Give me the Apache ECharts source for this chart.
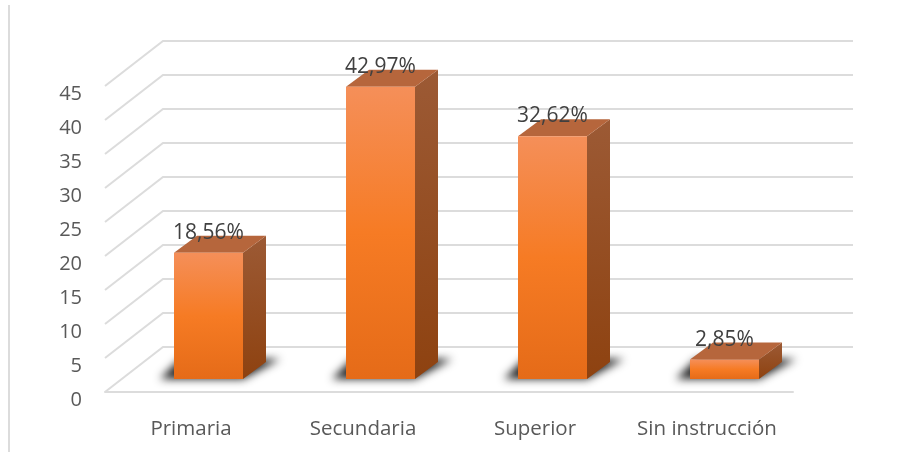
<!DOCTYPE html>
<html>
<head>
<meta charset="utf-8">
<style>
  html, body { margin: 0; padding: 0; background: #fff; }
  #chart { width: 904px; height: 452px; }
</style>
<script src="https://cdn.jsdelivr.net/npm/echarts@6/dist/echarts.min.js"></script>
</head>
<body>
<div id="chart"></div>
<script>
const categories = ['Primaria', 'Secundaria', 'Superior', 'Sin instrucción']
// bar heights as drawn; the third bar stands taller than its printed label
const barValues = [18.56, 42.97, 35.7, 2.85]
const valueLabels = ['18,56%', '42,97%', '32,62%', '2,85%']
const yTicks = [0, 5, 10, 15, 20, 25, 30, 35, 40, 45]

// fake 3d: how far the back wall sits from the front plane, and the bar box
const wallDx = 58
const wallDy = 45
const barShiftX = 17.5
const barShiftY = 13
const barHalf = 34.5
const barDx = 23
const barDy = 17

const gridColor = '#dcdcdc'
const font = '"Open Sans", "Noto Sans", sans-serif'
// the floor shadow shape is drawn off canvas so that only its blur lands on the chart
const blurShift = 2000

const chart = echarts.init(document.getElementById('chart'))

function vGrad (stops) {
  return new echarts.graphic.LinearGradient(0, 0, 0, 1, stops)
}

function renderWall (params, api) {
  const cs = params.coordSys
  const y = api.coord([0, api.value(0)])[1]
  return {
    type: 'polyline',
    shape: { points: [[cs.x, y], [cs.x + wallDx, y - wallDy], [cs.x + cs.width + wallDx + 2, y - wallDy]] },
    style: { fill: null, stroke: gridColor, lineWidth: 2 },
    silent: true
  }
}

function renderBar (params, api) {
  const p = api.coord([api.value(0), api.value(1)])
  const zero = api.coord([api.value(0), 0])
  const x0 = p[0] + barShiftX - barHalf
  const x1 = p[0] + barShiftX + barHalf
  const top = p[1] - barShiftY
  const base = zero[1] - barShiftY
  return {
    type: 'group',
    children: [
      {
        type: 'polygon',
        x: -blurShift,
        shape: { points: [[x0 - 14, base], [x1, base], [x1 + 37, base - 20], [x0 + 6, base - 20]] },
        style: { fill: '#000', shadowBlur: 8, shadowColor: 'rgba(35,35,35,1)', shadowOffsetX: blurShift }
      },
      {
        type: 'polygon',
        shape: { points: [[x1, top], [x1 + barDx, top - barDy], [x1 + barDx, base - barDy], [x1, base]] },
        style: { fill: vGrad([{ offset: 0, color: '#9c5a35' }, { offset: 1, color: '#8e4210' }]) }
      },
      {
        type: 'polygon',
        shape: { points: [[x0, top], [x0 + barDx, top - barDy], [x1 + barDx, top - barDy], [x1, top]] },
        style: { fill: '#b6663c' }
      },
      {
        type: 'rect',
        shape: { x: x0, y: top, width: x1 - x0, height: base - top },
        style: {
          fill: vGrad([
            { offset: 0, color: '#f58f59' },
            { offset: 0.5, color: '#f67b24' },
            { offset: 1, color: '#e56b18' }
          ])
        }
      },
      {
        type: 'text',
        style: {
          x: p[0] + barShiftX,
          y: top - 20,
          text: valueLabels[params.dataIndex],
          fill: '#404040',
          font: '21px ' + font,
          align: 'center',
          verticalAlign: 'middle'
        }
      }
    ]
  }
}

const option = {
  backgroundColor: '#fff',
  animation: false,
  grid: { left: 105, top: 86, width: 688, height: 306 },
  graphic: [
    {
      type: 'line',
      shape: { x1: 9, y1: 5, x2: 9, y2: 452 },
      style: { stroke: gridColor, lineWidth: 2 },
      silent: true
    }
  ],
  xAxis: {
    type: 'category',
    data: categories,
    axisTick: { show: false },
    axisLine: { lineStyle: { color: gridColor, width: 2 } },
    axisLabel: { color: '#595959', fontFamily: font, fontSize: 20.5, margin: 27, interval: 0, hideOverlap: false }
  },
  yAxis: {
    type: 'value',
    min: 0,
    max: 45,
    interval: 5,
    axisLine: { show: false },
    axisTick: { show: false },
    splitLine: { show: false },
    axisLabel: { color: '#595959', fontFamily: font, fontSize: 20, margin: 23, verticalAlign: 'top', lineHeight: 17 }
  },
  series: [
    {
      type: 'custom',
      renderItem: renderWall,
      data: yTicks.map(v => [v]),
      encode: { y: 0 },
      clip: false,
      silent: true,
      z: 1
    },
    {
      type: 'custom',
      renderItem: renderBar,
      data: barValues.map((v, i) => [i, v]),
      encode: { x: 0, y: 1 },
      clip: false,
      z: 2
    }
  ]
}

chart.setOption(option)
</script>
</body>
</html>
